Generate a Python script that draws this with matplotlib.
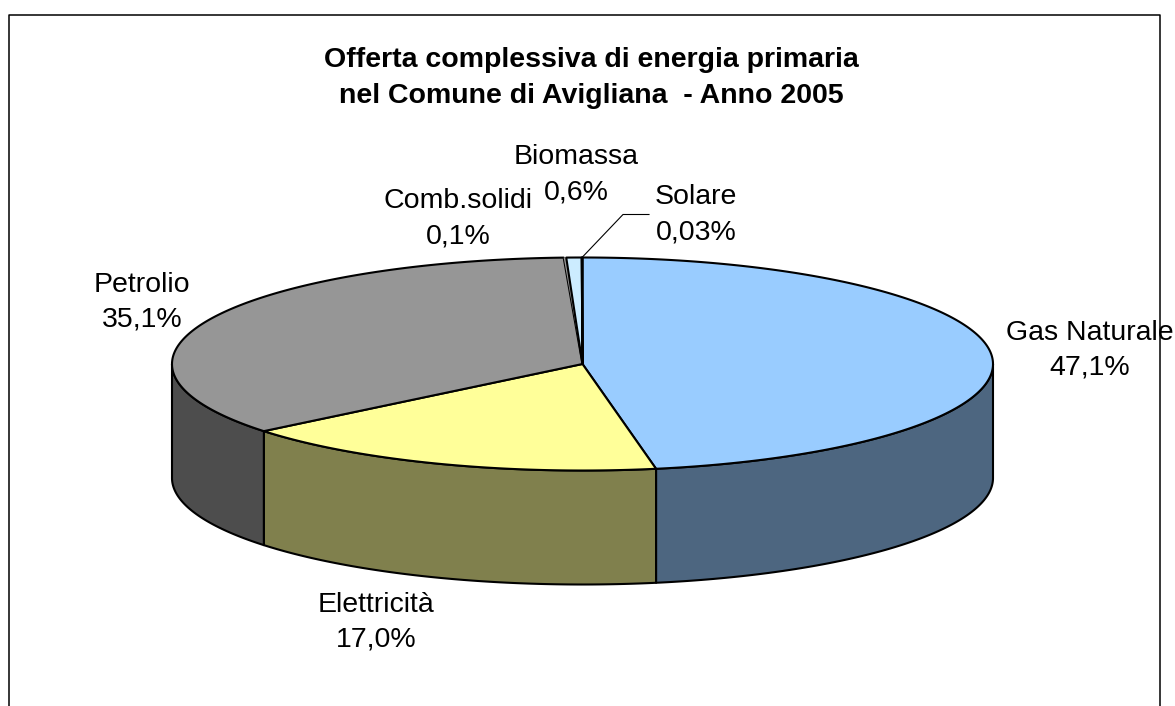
import numpy as np
import matplotlib
matplotlib.use('Agg')
import matplotlib.pyplot as plt

plt.rcParams['font.family'] = ['Liberation Sans', 'DejaVu Sans']

categories = ['Gas Naturale', 'Elettricità', 'Petrolio', 'Comb.solidi', 'Biomassa', 'Solare']
values = [47.1, 17.0, 35.1, 0.1, 0.6, 0.03]
value_labels = ['47,1%', '17,0%', '35,1%', '0,1%', '0,6%', '0,03%']
top_colors = ['#99CCFF', '#FFFF99', '#969696', '#969696', '#CCECFF', '#FFFFFF']
side_colors = ['#4D6680', '#80804D', '#4D4D4D', '#4D4D4D', '#667680', '#808080']
label_pos = [(1090, 350), (376, 622), (142, 302), (458, 219), (576, 175), (696, 215)]

cx, cy, rx, ry, depth = 582.5, 364, 410.5, 106.5, 114

fig = plt.figure(figsize=(11.75, 7.06), dpi=100)
ax = fig.add_axes([0, 0, 1, 1])
ax.set_xlim(0, 1175)
ax.set_ylim(706, 0)
ax.axis('off')

# chart frame, the bottom edge is cut off in the picture
ax.plot([8.5, 8.5, 1159.5, 1159.5], [706, 14.5, 14.5, 706], color='black', lw=1.1)


def rim(a, b):
    t = np.linspace(a, b, max(int((b - a) * 2) + 2, 2))
    return cx + rx * np.sin(np.radians(t)), cy - ry * np.cos(np.radians(t))


angles = np.cumsum([0] + values) / sum(values) * 360

# sides first: only the front half of the disc shows
for i in range(len(values)):
    a = max(angles[i], 90)
    b = min(angles[i + 1], 270)
    if b <= a:
        continue
    x, y = rim(a, b)
    px = np.concatenate([x, x[::-1]])
    py = np.concatenate([y, y[::-1] + depth])
    ax.fill(px, py, facecolor=side_colors[i], edgecolor='black', lw=1.5, joinstyle='round')

# top face, the Comb.solidi sliver is too thin to show an outline
for i in range(len(values)):
    x, y = rim(angles[i], angles[i + 1])
    px = np.concatenate([[cx], x])
    py = np.concatenate([[cy], y])
    ax.fill(px, py, facecolor=top_colors[i], edgecolor='none' if i == 3 else 'black',
            lw=1.5, joinstyle='round')

# leader for Solare
ax.plot([582, 623, 649], [257.5, 214.5, 214.5], color='black', lw=0.8)

for name, val, pos in zip(categories, value_labels, label_pos):
    ax.text(pos[0], pos[1], name + '\n' + val, fontsize=20.5, ha='center', va='center',
            linespacing=1.45, color='black')

ax.text(591.5, 78, 'Offerta complessiva di energia primaria\nnel Comune di Avigliana  - Anno 2005',
        fontsize=20.5, fontweight='bold', ha='center', va='center', linespacing=1.52)

fig.savefig('out.png', dpi=100)
